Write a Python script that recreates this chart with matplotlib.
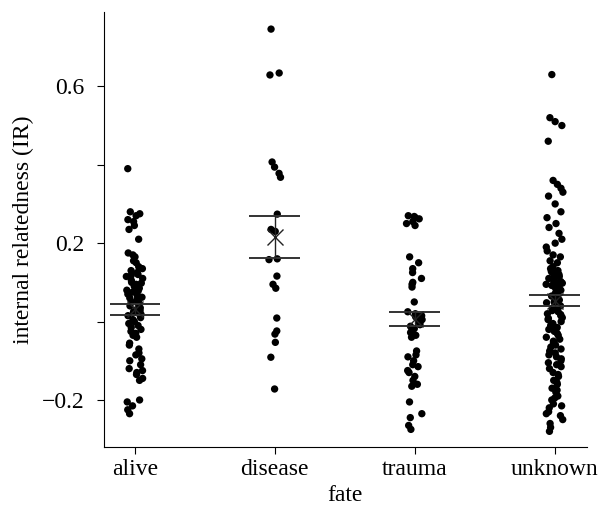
import numpy as np
import matplotlib
matplotlib.use('Agg')
from matplotlib import pyplot as plt

plt.rcParams['font.family'] = ['Liberation Serif', 'DejaVu Serif']
plt.rcParams['axes.unicode_minus'] = True

# categories and values
fates = ['alive', 'disease', 'trauma', 'unknown']

alive = [0.39,
         0.28, 0.275, 0.27, 0.26, 0.255, 0.245, 0.235,
         0.21,
         0.175, 0.17, 0.165, 0.155, 0.15, 0.14, 0.135, 0.13,
         0.125, 0.12, 0.118, 0.115, 0.11, 0.105, 0.10, 0.098, 0.095, 0.09,
         0.085, 0.08, 0.078, 0.075, 0.07, 0.065, 0.062, 0.06,
         0.055, 0.05, 0.048, 0.045, 0.04, 0.035, 0.032, 0.03, 0.028, 0.025,
         0.02, 0.018, 0.015, 0.01, 0.005, 0.0, -0.005, -0.01, -0.015, -0.02,
         -0.025, -0.03, -0.035, -0.04,
         -0.055, -0.06, -0.07, -0.08, -0.085, -0.095, -0.1, -0.11, -0.12,
         -0.125, -0.13, -0.135, -0.145, -0.15,
         -0.2, -0.205, -0.215, -0.225, -0.235]

disease = [0.746, 0.634, 0.629, 0.407, 0.394, 0.378, 0.368, 0.274,
           0.235, 0.23, 0.16, 0.158, 0.116, 0.095, 0.085, 0.009,
           -0.024, -0.032, -0.053, -0.091, -0.172]

trauma = [0.27, 0.268, 0.265, 0.262, 0.255, 0.25, 0.245,
          0.165, 0.15, 0.135, 0.125, 0.11, 0.1, 0.095, 0.088,
          0.05,
          0.025, 0.02, 0.015, 0.012, 0.01, 0.005, 0.002, 0.0, -0.003,
          -0.008, -0.012, -0.018, -0.022, -0.028, -0.035, -0.04,
          -0.075, -0.085, -0.09, -0.1, -0.11, -0.115, -0.125, -0.13,
          -0.14, -0.15, -0.16, -0.165,
          -0.205, -0.235, -0.245, -0.265, -0.275]

unknown = [0.63,
           0.52, 0.51, 0.5,
           0.46,
           0.36, 0.35, 0.34, 0.33, 0.32,
           0.3, 0.28, 0.265, 0.25, 0.24, 0.225,
           0.21, 0.2, 0.19, 0.18, 0.17, 0.165, 0.155, 0.15,
           0.14, 0.135, 0.13, 0.128, 0.125, 0.12, 0.118, 0.115, 0.112, 0.11,
           0.105, 0.102, 0.1, 0.098, 0.095, 0.092, 0.09, 0.088, 0.085, 0.082,
           0.08, 0.075, 0.072, 0.07, 0.068, 0.065, 0.06, 0.058, 0.055, 0.05,
           0.048, 0.045, 0.04, 0.038, 0.035, 0.03, 0.028, 0.025, 0.02, 0.018,
           0.015, 0.01, 0.008, 0.005, 0.0, -0.005, -0.01, -0.012, -0.015,
           -0.02, -0.025, -0.03, -0.035, -0.04, -0.045, -0.05, -0.055, -0.06,
           -0.065, -0.07, -0.075, -0.08, -0.085, -0.09, -0.095,
           -0.1, -0.105, -0.11, -0.115, -0.12, -0.13, -0.135, -0.14, -0.15,
           -0.155, -0.16, -0.17, -0.175, -0.18, -0.19, -0.195, -0.2, -0.21,
           -0.215, -0.22, -0.23, -0.235, -0.24, -0.25, -0.26, -0.27, -0.28]

# group means and standard errors
means = [0.031, 0.216, 0.006, 0.053]
ses = [0.013, 0.054, 0.018, 0.014]

groups = [alive, disease, trauma, unknown]
jitter = [0.06, 0.045, 0.06, 0.06]

fig = plt.figure(figsize=(6.15, 5.15), dpi=100)
ax = fig.add_axes([0.169, 0.132, 0.785, 0.845])

# jittered strip plot (jitter is only horizontal spread)
rng = np.random.default_rng(3)
for i, vals in enumerate(groups):
    xs = i + rng.uniform(-jitter[i], jitter[i], len(vals))
    ax.scatter(xs, vals, s=28, color='black', edgecolors='none', zorder=2)

# mean +/- SE
xpos = np.arange(len(fates))
m = np.array(means)
e = np.array(ses)
ax.hlines(m + e, xpos - 0.18, xpos + 0.18, color='#333333', lw=1.4, zorder=3)
ax.hlines(m - e, xpos - 0.18, xpos + 0.18, color='#333333', lw=1.4, zorder=3)
ax.vlines(xpos, m - e, m + e, color='#222222', lw=1.0, zorder=3)
ax.plot(xpos, m, 'x', color='#222222', ms=11, mew=1.0, zorder=3)

ax.set_xlim(-0.22, 3.23)
ax.set_ylim(-0.32, 0.79)
ax.set_xticks(xpos)
ax.set_xticklabels(fates)
ax.set_yticks([-0.2, 0.0, 0.2, 0.4, 0.6])
ax.set_yticklabels(['\u22120.2', '', '0.2', '', '0.6'])

for s in ['top', 'right']:
    ax.spines[s].set_visible(False)
ax.tick_params(direction='out', length=5, labelsize=17)
ax.tick_params(axis='y', pad=9)
ax.set_xlabel('fate', fontsize=17)
ax.set_ylabel('internal relatedness (IR)', fontsize=17, labelpad=6)

plt.savefig('out.png', dpi=100)
